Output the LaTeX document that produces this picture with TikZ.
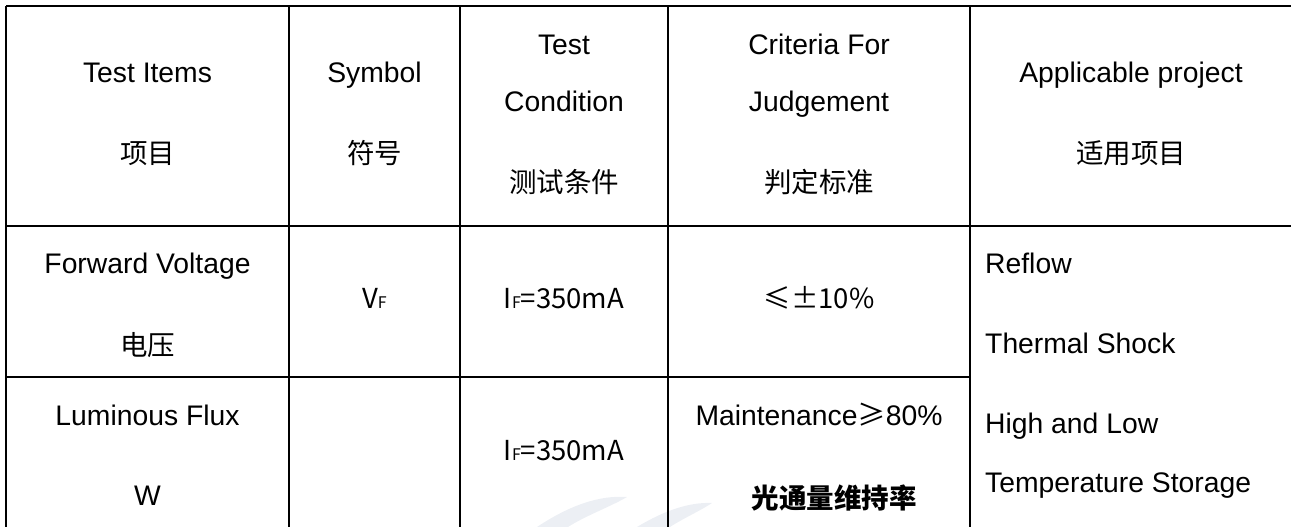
\documentclass[tikz,border=0pt]{standalone}
\usepackage{fontspec}
\setmainfont{Liberation Sans}
\newfontfamily\cjk{Noto Sans CJK SC}
\definecolor{wmcol}{HTML}{ECEFF4}
\begin{document}
\begin{tikzpicture}[x=1pt,y=-1pt,
  grid/.style={line width=1.4pt, black},
  txt/.style={inner sep=0pt, anchor=base, font=\fontsize{28.3}{32}\selectfont},
  ltxt/.style={inner sep=0pt, anchor=base west, font=\fontsize{28.3}{32}\selectfont},
  ctxt/.style={inner sep=0pt, anchor=base, font=\fontsize{27.5}{32}\selectfont\cjk},
  wm/.style={fill=wmcol}]
\useasboundingbox (0,0) rectangle (1291,527);
% watermark swooshes
\fill[wm] (537,527) .. controls (570,505) and (600,495) .. (627,497) .. controls (612,506) and (585,516) .. (568,527) -- cycle;
\fill[wm] (637,527) .. controls (665,510) and (690,502) .. (712,503) .. controls (700,511) and (682,519) .. (670,527) -- cycle;
% grid
\draw[grid] (6,6) -- (1291,6);
\draw[grid] (6,226) -- (1291,226);
\draw[grid] (6,377) -- (970,377);
\foreach \xx in {6,289,460,668,970} \draw[grid] (\xx,6) -- (\xx,527);
% header
\node[txt] (h1) at (147.5,83) {Test Items};
\node[ctxt] (h1c) at (147.5,163) {项目};
\node[txt] (h2) at (374.5,83) {Symbol};
\node[ctxt] (h2c) at (374.5,163) {符号};
\node[txt] (h3a) at (564,55) {Test};
\node[txt] (h3b) at (564,111) {Condition};
\node[ctxt] (h3c) at (564,192) {测试条件};
\node[txt] (h4a) at (819,55) {Criteria For};
\node[txt] (h4b) at (819,111) {Judgement};
\node[ctxt] (h4c) at (819,192) {判定标准};
\node[txt] (h5) at (1131,82) {Applicable project};
\node[ctxt] (h5c) at (1131,163) {适用项目};
% row 1
\node[txt] (r1a) at (147.5,273) {Forward Voltage};
\node[ctxt] (r1b) at (147.5,355) {电压};
\node[ctxt] (r1s) at (374.5,308) {V{\fontsize{16}{16}\selectfont F}};
\node[ctxt] (r1c) at (564,308) {I{\fontsize{16}{16}\selectfont F}=350mA};
\node[ctxt] (r1d) at (819,308) {≤±10\%};
% row 2
\node[txt] (r2a) at (147.5,425) {Luminous Flux};
\node[txt] (r2b) at (147.5,505) {W};
\node[ctxt] (r2c) at (564,460) {I{\fontsize{16}{16}\selectfont F}=350mA};
\node[txt] (r2d) at (819,425) {Maintenance{\cjk ≥}80\%};
\node[ctxt, font=\fontsize{27.5}{32}\selectfont\cjk\bfseries] (r2e) at (834,508) {光通量维持率};
% applicable
\node[ltxt] (p1) at (985,273) {Reflow};
\node[ltxt] (p2) at (985,353) {Thermal Shock};
\node[ltxt] (p3) at (985,433) {High and Low};
\node[ltxt] (p4) at (985,492) {Temperature Storage};
\end{tikzpicture}
\end{document}
